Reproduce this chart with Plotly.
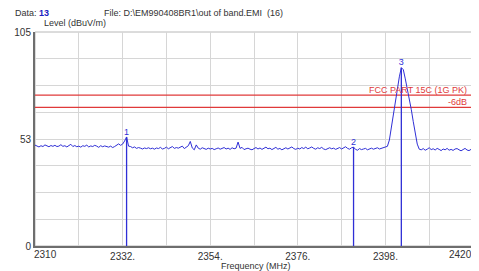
import plotly.graph_objects as go

# Sweep: 2310 .. 2420 MHz in 0.5 MHz steps
f_start = 2310.0
f_step = 0.5
levels = [
    49.5, 49.0, 48.6, 49.2, 48.8, 49.6, 49.1, 48.7, 49.3, 48.9,
    49.4, 48.8, 49.0, 49.7, 48.9, 49.2, 48.6, 49.1, 49.9, 48.8,
    49.3, 48.7, 49.0, 48.5, 49.2, 48.9, 49.5, 48.6, 49.1, 48.8,
    49.4, 49.0, 48.4, 49.2, 48.7, 49.1, 48.9, 48.5, 49.0, 48.3,
    48.8, 49.3, 50.1, 49.4,
    50.0, 51.5, 53.5, 49.0,
    48.8, 48.2, 48.6, 47.9, 48.3, 48.0, 47.6, 48.1, 47.8, 48.2,
    47.7, 48.0, 47.5, 48.1, 47.8, 48.4, 47.6, 47.9, 48.5, 47.7,
    48.2, 48.8, 47.9, 48.3,
    48.0, 48.6, 49.0, 47.8, 48.3, 49.2, 51.3, 48.1, 47.2, 49.6,
    48.0, 47.5, 48.2, 47.8, 47.4, 48.0, 47.6, 47.9, 47.3, 47.7,
    48.1, 47.5, 47.8, 48.3, 47.6, 48.0, 47.4, 48.2, 47.7, 48.0,
    51.0, 47.9, 48.4, 47.3, 47.7, 48.0, 47.5, 47.2, 47.8, 48.3,
    47.6, 48.1, 47.4, 47.9, 48.5, 47.7, 48.0, 47.3, 47.8, 48.4,
    47.5, 47.9, 47.2, 47.7, 48.2, 47.6, 48.0, 48.6, 47.8, 47.4,
    48.0, 47.6, 48.3, 47.8, 48.5, 47.7, 48.1, 48.6, 47.9, 47.5,
    48.2, 47.8, 48.4, 47.6, 47.3, 47.9, 48.2, 47.7, 48.0, 47.4,
    47.8, 48.3, 47.6, 48.1, 48.7, 47.9, 47.5, 48.2,
    48.5,
    47.4, 47.0, 47.8, 47.3, 47.6, 47.9, 47.2, 47.7, 48.0, 47.5,
    47.8, 48.2, 47.6, 48.0, 48.3, 48.6, 48.9,
    52.0, 58.0, 65.0, 72.0, 78.0, 83.0, 87.5, 86.5, 82.0, 77.0,
    73.0, 67.0, 61.0, 55.0, 50.0, 47.5,
    47.2, 47.8, 47.0, 47.5, 48.2, 47.3, 47.7, 47.1, 47.9, 47.4,
    46.8, 47.6, 47.2, 47.9, 47.0, 47.4, 46.9, 47.6, 47.8, 47.2,
    46.7, 47.3, 47.9, 47.1, 46.8, 47.4, 47.0,
]
freqs = [f_start + f_step * i for i in range(len(levels))]

marker_labels = ["1", "2", "3"]
marker_freqs = [2333.0, 2390.0, 2402.0]
marker_levels = [53.5, 48.5, 87.5]

limit_names = ["FCC PART 15C (1G PK)", "-6dB"]
limit_levels = [74.0, 68.0]

x_tick_vals = [2310, 2332, 2354, 2376, 2398, 2420]
x_tick_text = ["2310", "2332.", "2354.", "2376.", "2398.", "2420"]
y_tick_vals = [0, 52.5, 105]
y_tick_text = ["0", "53", "105"]

BLUE = "#2f2fd6"
RED = "#e03a3a"
FONT = "Liberation Sans, Arial, sans-serif"
TXT = "#333333"

fig = go.Figure()

# Limit lines
for lv in limit_levels:
    fig.add_trace(go.Scatter(x=[freqs[0], freqs[-1]], y=[lv, lv], mode="lines",
                             line=dict(color=RED, width=1.2), hoverinfo="skip",
                             showlegend=False))

# Marker lines
for mf, ml in zip(marker_freqs, marker_levels):
    fig.add_trace(go.Scatter(x=[mf, mf], y=[0, ml], mode="lines",
                             line=dict(color=BLUE, width=1.3), showlegend=False))

# Trace
fig.add_trace(go.Scatter(x=freqs, y=levels, mode="lines",
                         line=dict(color=BLUE, width=1), showlegend=False))

# Marker labels
fig.add_trace(go.Scatter(x=marker_freqs, y=marker_levels, mode="text",
                         text=marker_labels, textposition="top center",
                         textfont=dict(color=BLUE, size=9, family=FONT),
                         showlegend=False))

annotations = []
for name, lv in zip(limit_names, limit_levels):
    annotations.append(dict(x=0.991, xref="paper", y=lv, yref="y",
                            text=name, showarrow=False, xanchor="right",
                            yanchor="bottom", yshift=-2,
                            font=dict(color=RED, size=9, family=FONT)))

# End tick labels: first is left-aligned on the axis, last is right-aligned at the edge
annotations.append(dict(x=x_tick_vals[0], xref="x", y=-0.04, yref="paper",
                        text=x_tick_text[0], showarrow=False, xanchor="left",
                        yanchor="middle", xshift=-3,
                        font=dict(size=10, color=TXT, family=FONT)))
annotations.append(dict(x=1.0, xref="paper", y=-0.04, yref="paper",
                        text=x_tick_text[-1], showarrow=False, xanchor="right",
                        yanchor="middle", xshift=1,
                        font=dict(size=10, color=TXT, family=FONT)))

annotations += [
    dict(x=-0.05, y=1.088, xref="paper", yref="paper", xanchor="left", yanchor="middle",
         text="Data: <b><span style='color:#2020c0'>13</span></b>", showarrow=False,
         font=dict(size=9, color=TXT, family=FONT)),
    dict(x=0.152, y=1.088, xref="paper", yref="paper", xanchor="left", yanchor="middle",
         text="File: D:\\EM990408BR1\\out of band.EMI  (16)", showarrow=False,
         font=dict(size=9, color=TXT, family=FONT)),
    dict(x=0.016, y=1.042, xref="paper", yref="paper", xanchor="left", yanchor="middle",
         text="Level (dBuV/m)", showarrow=False,
         font=dict(size=9, color=TXT, family=FONT)),
    dict(x=0.505, y=-0.092, xref="paper", yref="paper", xanchor="center", yanchor="middle",
         text="Frequency (MHz)", showarrow=False,
         font=dict(size=9, color=TXT, family=FONT)),
]

mid_text = [""] + x_tick_text[1:-1] + [""]

# The page has an 8px body margin, so the figure is offset by 8px
fig.update_layout(
    width=471, height=263,
    margin=dict(l=24, r=6, t=24, b=25),
    paper_bgcolor="white", plot_bgcolor="white",
    font=dict(family=FONT, size=10, color=TXT),
    annotations=annotations,
    shapes=[dict(type="rect", xref="paper", yref="paper", x0=0, y0=0, x1=1, y1=1,
                 line=dict(color="#b8b8b8", width=1), layer="below")],
)
fig.update_xaxes(range=[2310, 2420], tickvals=x_tick_vals, ticktext=mid_text,
                 showgrid=True, gridcolor="#d6d6d6", gridwidth=1,
                 minor=dict(tick0=2310, dtick=11, showgrid=True, gridcolor="#d6d6d6"),
                 showline=True, linecolor="#6e6e6e", linewidth=2,
                 ticks="", zeroline=False, tickfont=dict(size=10, color=TXT))
fig.update_yaxes(range=[0, 105], tickvals=y_tick_vals, ticktext=y_tick_text,
                 showgrid=True, gridcolor="#d6d6d6", gridwidth=1,
                 minor=dict(tick0=0, dtick=13.125, showgrid=True, gridcolor="#d6d6d6"),
                 showline=True, linecolor="#6e6e6e", linewidth=2,
                 ticks="", zeroline=False, tickfont=dict(size=10, color=TXT))

fig.write_html("out.html")
